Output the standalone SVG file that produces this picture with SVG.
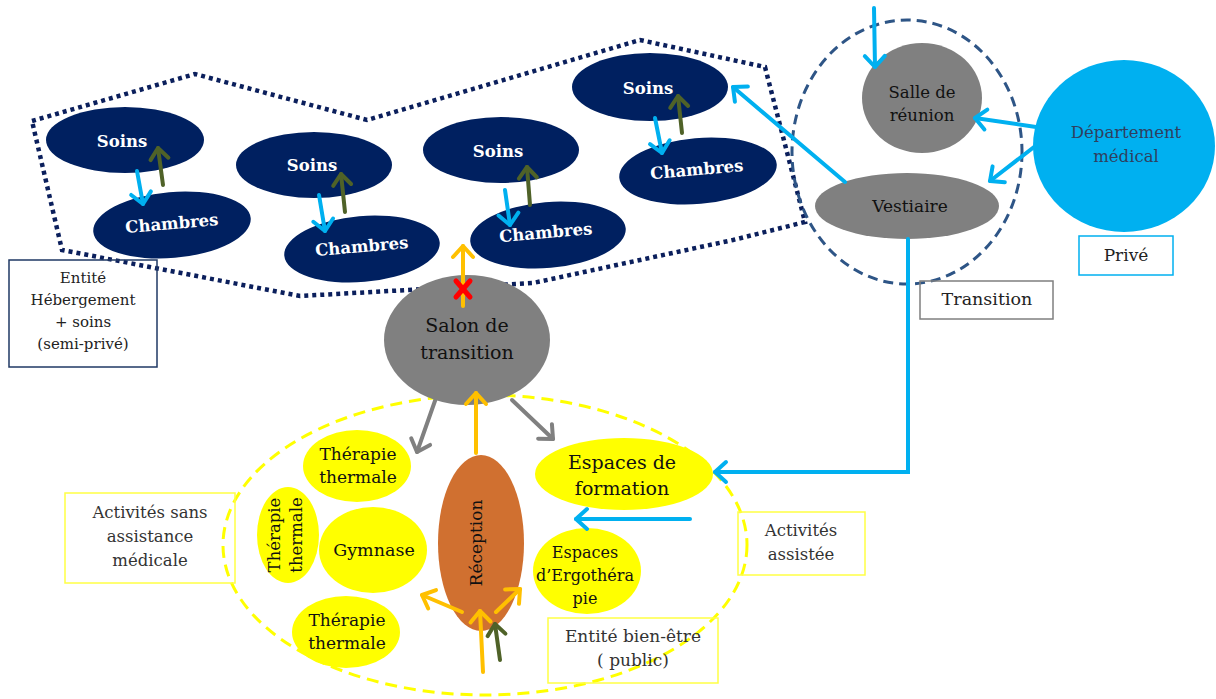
<svg xmlns="http://www.w3.org/2000/svg" width="1216" height="699" viewBox="0 0 1216 699">
<defs>
<style>
text{font-family:'DejaVu Serif','Liberation Serif',serif;text-anchor:middle;}
.navy{fill:#002060;}
.wt{fill:#ffffff;font-weight:bold;font-size:16.5px;}
.gray{fill:#808080;}
.yel{fill:#ffff00;}
.dk{fill:#111111;}
.c-blue{stroke:#00b0f0;stroke-width:4;fill:none;stroke-linecap:round;}
.c-green{stroke:#4f6228;stroke-width:4;fill:none;stroke-linecap:round;}
.c-org{stroke:#ffc000;stroke-width:4;fill:none;stroke-linecap:round;}
.c-gray{stroke:#808080;stroke-width:4;fill:none;stroke-linecap:round;}
.lbl{fill:none;stroke-width:1.5;}
</style>
<marker id="hb" markerUnits="userSpaceOnUse" markerWidth="30" markerHeight="30" refX="15" refY="15" orient="auto"><path d="M4,5 L15,15 L4,25" fill="none" stroke="#00b0f0" stroke-width="4" stroke-linecap="round" stroke-linejoin="round"/></marker>
<marker id="hg" markerUnits="userSpaceOnUse" markerWidth="30" markerHeight="30" refX="15" refY="15" orient="auto"><path d="M4,6 L15,15 L4,24" fill="none" stroke="#4f6228" stroke-width="4" stroke-linecap="round" stroke-linejoin="round"/></marker>
<marker id="ho" markerUnits="userSpaceOnUse" markerWidth="30" markerHeight="30" refX="15" refY="15" orient="auto"><path d="M4,5 L15,15 L4,25" fill="none" stroke="#ffc000" stroke-width="4" stroke-linecap="round" stroke-linejoin="round"/></marker>
<marker id="hgr" markerUnits="userSpaceOnUse" markerWidth="30" markerHeight="30" refX="15" refY="15" orient="auto"><path d="M4,5 L15,15 L4,25" fill="none" stroke="#808080" stroke-width="4" stroke-linecap="round" stroke-linejoin="round"/></marker>
</defs>
<rect width="1216" height="699" fill="#ffffff"/>

<g id="zone-hebergement">
<polygon points="32,121 195,74 367,120 640,40 765,67 805,222 733,240 533,283 300,296 62,250" fill="none" stroke="#0b1f5c" stroke-width="4.5" stroke-dasharray="4 4"/>
</g>
<g id="zone-transition">
<ellipse cx="907" cy="152" rx="115" ry="132" fill="none" stroke="#2e5586" stroke-width="3" stroke-dasharray="10 6"/>
</g>
<g id="zone-bienetre">
<ellipse cx="485" cy="545" rx="262" ry="150" fill="none" stroke="#ffff00" stroke-width="3" stroke-dasharray="12 7"/>
</g>

<g id="soins1"><ellipse class="navy" cx="125" cy="140" rx="79" ry="33"/><text class="wt" x="122" y="147">Soins</text></g>
<g id="chambres1" transform="rotate(-5 172 225)"><ellipse class="navy" cx="172" cy="225" rx="79" ry="33"/><text class="wt" x="172" y="229">Chambres</text></g>
<g id="soins2"><ellipse class="navy" cx="314" cy="165" rx="78" ry="33"/><text class="wt" x="312" y="171">Soins</text></g>
<g id="chambres2" transform="rotate(-5 362 249)"><ellipse class="navy" cx="362" cy="249" rx="78" ry="33"/><text class="wt" x="362" y="252">Chambres</text></g>
<g id="soins3"><ellipse class="navy" cx="501" cy="150" rx="78" ry="33"/><text class="wt" x="498" y="157">Soins</text></g>
<g id="chambres3" transform="rotate(-5 548 235)"><ellipse class="navy" cx="548" cy="235" rx="78" ry="33"/><text class="wt" x="546" y="238">Chambres</text></g>
<g id="soins4"><ellipse class="navy" cx="650" cy="87" rx="78" ry="34"/><text class="wt" x="648" y="94">Soins</text></g>
<g id="chambres4" transform="rotate(-5 698 171)"><ellipse class="navy" cx="698" cy="171" rx="79" ry="33"/><text class="wt" x="697" y="175">Chambres</text></g>

<g id="salle-reunion"><ellipse class="gray" cx="922" cy="98" rx="60" ry="55"/><text class="dk" font-size="16.5" x="922" y="98">Salle de</text><text class="dk" font-size="16.5" x="922" y="121">réunion</text></g>
<g id="vestiaire"><ellipse class="gray" cx="907" cy="206" rx="92" ry="33"/><text class="dk" font-size="17" x="910" y="212">Vestiaire</text></g>
<g id="departement"><ellipse fill="#00b0f0" cx="1124" cy="146" rx="91" ry="86"/><text fill="#2f3f5f" font-size="16.5" x="1126" y="138">Département</text><text fill="#2f3f5f" font-size="16.5" x="1126" y="162">médical</text></g>
<g id="salon"><ellipse class="gray" cx="467" cy="340" rx="83" ry="65"/><text class="dk" font-size="19" x="467" y="332">Salon de</text><text class="dk" font-size="19" x="467" y="359">transition</text></g>

<g id="therapie1"><ellipse class="yel" cx="357" cy="466" rx="54" ry="36"/><text class="dk" font-size="17" x="358" y="460">Thérapie</text><text class="dk" font-size="17" x="358" y="483">thermale</text></g>
<g id="therapie2"><ellipse class="yel" cx="288" cy="535" rx="31" ry="48"/><g transform="rotate(-90 288 535)"><text class="dk" font-size="16.5" x="288" y="527">Thérapie</text><text class="dk" font-size="16.5" x="288" y="549">thermale</text></g></g>
<g id="gymnase"><ellipse class="yel" cx="373" cy="550" rx="54" ry="43"/><text class="dk" font-size="17.5" x="374" y="556">Gymnase</text></g>
<g id="therapie3"><ellipse class="yel" cx="346" cy="632" rx="54" ry="36"/><text class="dk" font-size="17" x="347" y="626">Thérapie</text><text class="dk" font-size="17" x="347" y="649">thermale</text></g>
<g id="reception"><ellipse fill="#d07030" cx="481" cy="543" rx="43" ry="88"/><text class="dk" font-size="17" x="476" y="549" transform="rotate(-90 476 543)">Réception</text></g>
<g id="espaces-formation"><ellipse class="yel" cx="624" cy="474" rx="89" ry="36"/><text class="dk" font-size="19" x="622" y="469">Espaces de</text><text class="dk" font-size="19" x="622" y="495">formation</text></g>
<g id="espaces-ergo"><ellipse class="yel" cx="587" cy="571" rx="54" ry="43"/><text class="dk" font-size="16" x="585" y="558">Espaces</text><text class="dk" font-size="16" x="585" y="581">d’Ergothéra</text><text class="dk" font-size="16" x="585" y="604">pie</text></g>

<g id="label-hebergement"><rect class="lbl" x="9" y="260" width="148" height="107" stroke="#1f3864"/><text fill="#222" font-size="15" x="83" y="283">Entité</text><text fill="#222" font-size="15" x="83" y="305">Hébergement</text><text fill="#222" font-size="15" x="83" y="327">+ soins</text><text fill="#222" font-size="15" x="83" y="349">(semi-privé)</text></g>
<g id="label-prive"><rect class="lbl" x="1079" y="236" width="94" height="39" stroke="#00b0f0"/><text fill="#222" font-size="17" x="1126" y="261">Privé</text></g>
<g id="label-transition"><rect class="lbl" x="920" y="281" width="133" height="38" stroke="#7f7f7f"/><text fill="#222" font-size="17.5" x="987" y="305">Transition</text></g>
<g id="label-sans-assistance"><rect class="lbl" x="65" y="493" width="170" height="90" stroke="#ffff44"/><text fill="#333" font-size="16.5" x="150" y="518">Activités sans</text><text fill="#333" font-size="16.5" x="150" y="542">assistance</text><text fill="#333" font-size="16.5" x="150" y="566">médicale</text></g>
<g id="label-assistee"><rect class="lbl" x="738" y="512" width="127" height="63" stroke="#ffff44"/><text fill="#333" font-size="16.5" x="801" y="536">Activités</text><text fill="#333" font-size="16.5" x="801" y="560">assistée</text></g>
<g id="label-bienetre"><rect class="lbl" x="548" y="618" width="170" height="65" stroke="#ffff44"/><text fill="#333" font-size="17" x="633" y="642">Entité bien-être</text><text fill="#333" font-size="17" x="633" y="666">( public)</text></g>

<g id="connectors">
<line class="c-blue" x1="137" y1="171" x2="143" y2="204" marker-end="url(#hb)"/>
<line class="c-green" x1="163" y1="185" x2="158" y2="148" marker-end="url(#hg)"/>
<line class="c-blue" x1="319" y1="195" x2="325" y2="231" marker-end="url(#hb)"/>
<line class="c-green" x1="345" y1="212" x2="341" y2="174" marker-end="url(#hg)"/>
<line class="c-blue" x1="505" y1="190" x2="510" y2="225" marker-end="url(#hb)"/>
<line class="c-green" x1="530" y1="205" x2="527" y2="167" marker-end="url(#hg)"/>
<line class="c-blue" x1="655" y1="118" x2="662" y2="153" marker-end="url(#hb)"/>
<line class="c-green" x1="682" y1="133" x2="678" y2="96" marker-end="url(#hg)"/>

<line class="c-blue" x1="874" y1="8" x2="875" y2="67" marker-end="url(#hb)"/>
<line class="c-blue" x1="1036" y1="127" x2="975" y2="118" marker-end="url(#hb)"/>
<line class="c-blue" x1="1034" y1="147" x2="990" y2="181" marker-end="url(#hb)"/>
<line class="c-blue" x1="845" y1="182" x2="733" y2="87" marker-end="url(#hb)"/>
<polyline class="c-blue" points="908,239 908,472 715,472" marker-end="url(#hb)"/>
<line class="c-blue" x1="690" y1="519" x2="576" y2="519" marker-end="url(#hb)"/>

<line class="c-org" x1="463" y1="306" x2="463" y2="246" marker-end="url(#ho)"/>
<g stroke="#ff0000" stroke-width="5" stroke-linecap="round"><line x1="456" y1="281" x2="470" y2="297"/><line x1="470" y1="281" x2="456" y2="297"/></g>

<line class="c-gray" x1="436" y1="398" x2="417" y2="452" marker-end="url(#hgr)"/>
<line class="c-gray" x1="512" y1="400" x2="553" y2="439" marker-end="url(#hgr)"/>
<line class="c-org" x1="476" y1="453" x2="476" y2="393" marker-end="url(#ho)"/>

<line class="c-org" x1="483" y1="672" x2="480" y2="611" marker-end="url(#ho)"/>
<line class="c-org" x1="462" y1="612" x2="422" y2="595" marker-end="url(#ho)"/>
<line class="c-org" x1="496" y1="612" x2="520" y2="589" marker-end="url(#ho)"/>
<line class="c-green" x1="500" y1="660" x2="495" y2="624" marker-end="url(#hg)"/>
</g>
</svg>
